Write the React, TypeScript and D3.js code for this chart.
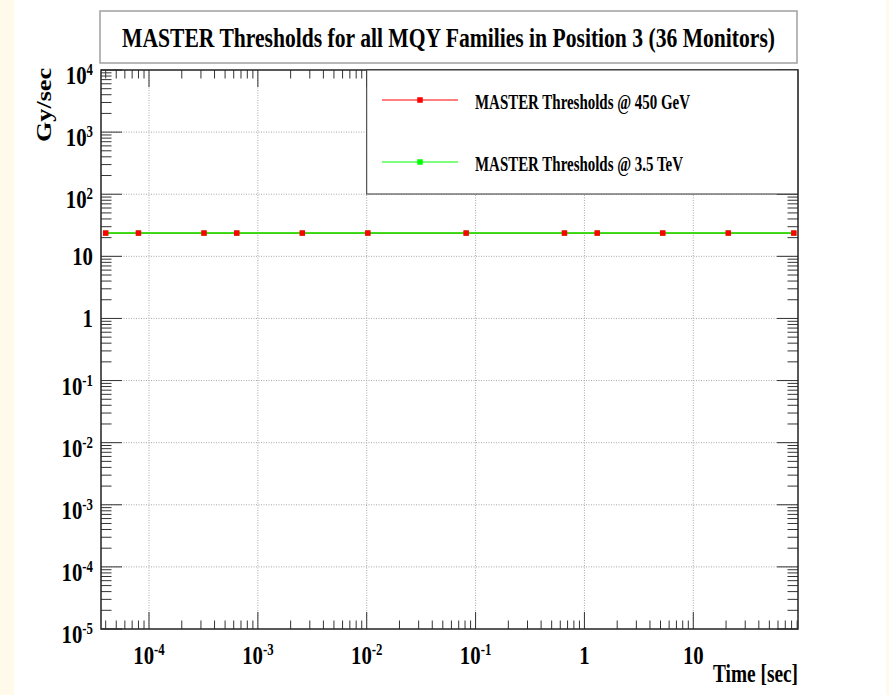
import React from "react";
import * as d3 from "d3";

// BLM running-sum integration times [s]
const times = [4e-5, 8e-5, 3.2e-4, 6.4e-4, 2.56e-3, 1.024e-2, 8.192e-2, 0.65536, 1.31072, 5.24288, 20.97152, 83.88608];
// Threshold values [Gy/s]
const thr450GeV = [23.7, 23.7, 23.7, 23.7, 23.7, 23.7, 23.7, 23.7, 23.7, 23.7, 23.7, 23.7];
const thr35TeV = [23.7, 23.7, 23.7, 23.7, 23.7, 23.7, 23.7, 23.7, 23.7, 23.7, 23.7, 23.7];

// Decade exponents that carry labels
const xTickExps = [-4, -3, -2, -1, 0, 1];
const yTickExps = [-5, -4, -3, -2, -1, 0, 1, 2, 3, 4];

const titleText = "MASTER Thresholds for all MQY Families in Position 3 (36 Monitors)";
const legendLabels = ["MASTER Thresholds @ 450 GeV", "MASTER Thresholds @ 3.5 TeV"];
const seriesColors = ["#ff0000", "#00ff00"];

const W = 889;
const H = 695;
const frame = { left: 101, right: 798, top: 70, bottom: 629 };
const SERIF = "'Liberation Serif', 'Times New Roman', serif";

function expLabel(e: number) {
  if (e === 0) return { base: "1", sup: "" };
  if (e === 1) return { base: "10", sup: "" };
  return { base: "10", sup: String(e) };
}

function minorValues(domain: [number, number]) {
  const out: { v: number; major: boolean }[] = [];
  const lo = Math.floor(Math.log10(domain[0]));
  const hi = Math.ceil(Math.log10(domain[1]));
  for (let e = lo; e <= hi; e++) {
    for (let m = 1; m <= 9; m++) {
      const v = m * Math.pow(10, e);
      if (v >= domain[0] * 0.9999 && v <= domain[1] * 1.0001) out.push({ v, major: m === 1 });
    }
  }
  return out;
}

// Condensed bold serif text: drawn at natural size, squeezed horizontally
function Condensed(props: {
  x: number;
  y: number;
  width: number;
  sx: number;
  size: number;
  anchor: "start" | "middle" | "end";
  children: string;
}) {
  const { x, y, width, sx, size, anchor, children } = props;
  return (
    <text
      transform={`translate(${x},${y}) scale(${sx},1)`}
      textAnchor={anchor}
      fontSize={size}
      fontWeight="bold"
      textLength={width / sx}
      lengthAdjust="spacingAndGlyphs"
      fill="#000"
    >
      {children}
    </text>
  );
}

export default function App() {
  const xDomain: [number, number] = [Math.pow(10, -4.441), Math.pow(10, 1.962)];
  const yDomain: [number, number] = [1e-5, 1e4];
  const x = d3.scaleLog().domain(xDomain).range([frame.left, frame.right]);
  const y = d3.scaleLog().domain(yDomain).range([frame.bottom, frame.top]);

  const xTicks = minorValues(xDomain);
  const yTicks = minorValues(yDomain);

  const line = d3
    .line<number>()
    .x((_, i) => x(times[i]))
    .y((d) => y(d));

  const axisColor = "#333";
  const gridColor = "#a8a8a8";
  const xMaj = 17, xMin = 8.5, yMaj = 21, yMin = 10.5;

  const legend = { left: 366.7, top: 70, right: 797.7, bottom: 194 };
  const legendRows = [100, 162];

  return (
    <div style={{ position: "absolute", left: 0, top: 0 }}>
      <svg width={W} height={H} style={{ display: "block" }} fontFamily={SERIF}>
        <rect x={0} y={0} width={W} height={H} fill="#ffffff" />
        <rect x={0} y={0} width={14} height={H} fill="#fffaea" />
        <rect x={886} y={0} width={W - 886} height={H} fill="#fffaea" />

        {/* grid */}
        <g stroke={gridColor} strokeWidth={1} strokeDasharray="1,1.5">
          {xTickExps.map((e) => (
            <line key={"gx" + e} x1={x(Math.pow(10, e))} x2={x(Math.pow(10, e))} y1={frame.top} y2={frame.bottom} />
          ))}
          {yTickExps
            .filter((e) => e > -5 && e < 4)
            .map((e) => (
              <line key={"gy" + e} x1={frame.left} x2={frame.right} y1={y(Math.pow(10, e))} y2={y(Math.pow(10, e))} />
            ))}
        </g>

        {/* ticks */}
        <g stroke={axisColor} strokeWidth={1}>
          {xTicks.map((t, i) => {
            const px = x(t.v);
            const len = t.major ? xMaj : xMin;
            return (
              <g key={"xt" + i}>
                <line x1={px} x2={px} y1={frame.bottom} y2={frame.bottom - len} />
                <line x1={px} x2={px} y1={frame.top} y2={frame.top + len} />
              </g>
            );
          })}
          {yTicks.map((t, i) => {
            const py = y(t.v);
            const len = t.major ? yMaj : yMin;
            return (
              <g key={"yt" + i}>
                <line x1={frame.left} x2={frame.left + len} y1={py} y2={py} />
                <line x1={frame.right} x2={frame.right - len} y1={py} y2={py} />
              </g>
            );
          })}
        </g>

        {/* frame */}
        <rect
          x={frame.left}
          y={frame.top}
          width={frame.right - frame.left}
          height={frame.bottom - frame.top}
          fill="none"
          stroke="#222"
          strokeWidth={1.5}
        />

        {/* series */}
        <path d={line(thr450GeV) || ""} fill="none" stroke={seriesColors[0]} strokeWidth={1.2} />
        <path d={line(thr35TeV) || ""} fill="none" stroke={seriesColors[1]} strokeWidth={1.4} />
        {thr35TeV.map((v, i) => (
          <rect key={"g" + i} x={x(times[i]) - 2.5} y={y(v) - 2.5} width={5} height={5} fill={seriesColors[1]} />
        ))}
        {thr450GeV.map((v, i) => (
          <rect key={"r" + i} x={x(times[i]) - 2.75} y={y(v) - 2.75} width={5.5} height={5.5} fill={seriesColors[0]} />
        ))}

        {/* legend */}
        <rect
          x={legend.left}
          y={legend.top}
          width={legend.right - legend.left}
          height={legend.bottom - legend.top}
          fill="#ffffff"
          stroke="#333"
          strokeWidth={1}
        />
        {legendLabels.map((lab, i) => (
          <g key={"lg" + i}>
            <line x1={382} x2={458} y1={legendRows[i]} y2={legendRows[i]} stroke={seriesColors[i]} strokeWidth={1.2} />
            <rect x={420 - 2.75} y={legendRows[i] - 2.75} width={5.5} height={5.5} fill={seriesColors[i]} />
            <Condensed x={475} y={legendRows[i] + 9} width={i === 0 ? 215 : 208} sx={0.8} size={21} anchor="start">
              {lab}
            </Condensed>
          </g>
        ))}

        {/* title */}
        <rect x={100} y={11} width={697} height={52} fill="#ffffff" stroke="#a0a0a0" strokeWidth={1.5} />
        <Condensed x={448.5} y={47} width={653} sx={0.75} size={28} anchor="middle">
          {titleText}
        </Condensed>

        {/* x tick labels */}
        {xTickExps.map((e) => {
          const l = expLabel(e);
          return (
            <text
              key={"xl" + e}
              transform={`translate(${x(Math.pow(10, e))},664) scale(0.8,1)`}
              textAnchor="middle"
              fontSize={26}
              fontWeight="bold"
              fill="#000"
            >
              {l.base}
              {l.sup && (
                <tspan fontSize={16} dy={-9}>
                  {l.sup}
                </tspan>
              )}
            </text>
          );
        })}

        {/* y tick labels */}
        {yTickExps.map((e) => {
          const l = expLabel(e);
          const base = y(Math.pow(10, e)) + (l.sup ? 14 : 9);
          return (
            <text
              key={"yl" + e}
              transform={`translate(93,${base}) scale(0.8,1)`}
              textAnchor="end"
              fontSize={26}
              fontWeight="bold"
              fill="#000"
            >
              {l.base}
              {l.sup && (
                <tspan fontSize={16} dy={-9}>
                  {l.sup}
                </tspan>
              )}
            </text>
          );
        })}

        {/* axis titles */}
        <Condensed x={798} y={682} width={85} sx={0.8} size={25} anchor="end">
          Time [sec]
        </Condensed>
        <text
          transform="translate(51,68) rotate(-90)"
          textAnchor="end"
          fontSize={22}
          fontWeight="bold"
          textLength={74}
          lengthAdjust="spacingAndGlyphs"
          fill="#000"
        >
          Gy/sec
        </text>
      </svg>
    </div>
  );
}
